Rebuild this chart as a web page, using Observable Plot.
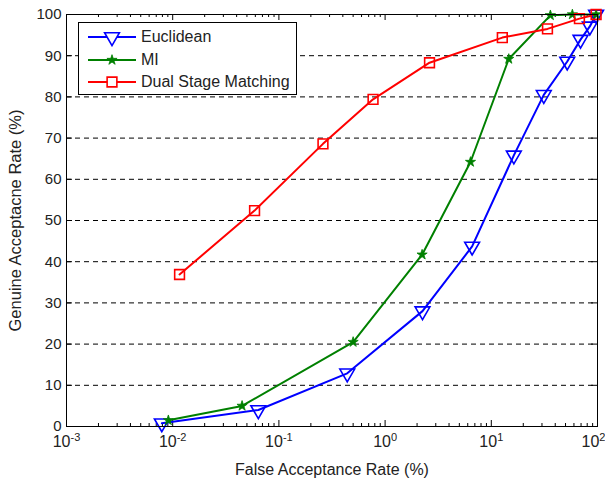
<!DOCTYPE html>
<html>
<head>
<meta charset="utf-8">
<script src="https://cdn.jsdelivr.net/npm/d3@7"></script>
<script src="https://cdn.jsdelivr.net/npm/@observablehq/plot@0.6"></script>
<style>
  body { margin: 0; background: #fff; }
  #wrap { position: relative; width: 605px; height: 478px; font-family: "Liberation Sans", Arial, sans-serif; }
  #legend { position: absolute; left: 78px; top: 22px; width: 217px; height: 71px; border: 1px solid #000; background: #fff; }
  .row { position: absolute; left: 0; height: 20px; display: flex; align-items: center; font-size: 16px; color: #222; }
  .row svg { margin-left: 9px; margin-right: 5px; }
</style>
</head>
<body>
<div id="wrap"><div id="legend"></div></div>
<script>
// ---- data ----
const seriesNames = ["Euclidean", "MI", "Dual Stage Matching"];
const seriesColors = ["#0000ff", "#008000", "#ff0000"];
const seriesSymbols = ["triangle", "star", "square"];

const farEuclidean = [0.0079, 0.064, 0.44, 2.25, 6.6, 16.3, 31.2, 51.9, 69.2, 84.7, 97];
const garEuclidean = [0.8, 4.0, 12.9, 28.0, 43.7, 65.8, 80.5, 88.6, 93.9, 97.1, 100];

const farMI = [0.0091, 0.045, 0.50, 2.23, 6.37, 14.6, 36, 58, 97];
const garMI = [1.5, 5.0, 20.5, 41.7, 64.2, 89.2, 99.8, 100, 100];

const farDual = [0.0116, 0.059, 0.26, 0.77, 2.62, 12.7, 33.8, 67.6, 97];
const garDual = [36.9, 52.4, 68.6, 79.4, 88.3, 94.4, 96.5, 99.0, 100];

const xMajorTicks = [1e-3, 1e-2, 1e-1, 1e0, 1e1, 1e2];
const xMinorMultipliers = [2, 3, 4, 5, 6, 7, 8, 9];
const yTicks = [0, 10, 20, 30, 40, 50, 60, 70, 80, 90, 100];
const yGrid = [10, 20, 30, 40, 50, 60, 70, 80, 90];

// ---- build table ----
const rows = [];
[[farEuclidean, garEuclidean], [farMI, garMI], [farDual, garDual]].forEach(([xs, ys], i) => {
  xs.forEach((x, j) => rows.push({series: seriesNames[i], far: x, gar: ys[j]}));
});
const xMinor = [];
xMajorTicks.slice(0, -1).forEach(d => xMinorMultipliers.forEach(m => xMinor.push(d * m)));

const W = 605, H = 478, mL = 66, mR = 8, mT = 14, mB = 52;
const fw = W - mL - mR, fh = H - mT - mB;

const colorScale = {domain: seriesNames, range: seriesColors};

const chart = Plot.plot({
  width: W, height: H,
  marginLeft: mL, marginRight: mR, marginTop: mT, marginBottom: mB,
  style: {fontFamily: '"Liberation Sans", Arial, sans-serif', fontSize: "15px", color: "#222", background: "#fff", overflow: "visible"},
  x: {type: "log", domain: [1e-3, 1e2]},
  y: {domain: [0, 100]},
  color: colorScale,
  marks: [
    Plot.ruleY(yGrid, {stroke: "#000", strokeDasharray: "5,4", strokeWidth: 1}),
    // inward ticks: bottom & top
    Plot.tickX(xMajorTicks, {x: d => d, stroke: "#000", insetTop: fh - 6}),
    Plot.tickX(xMajorTicks, {x: d => d, stroke: "#000", insetBottom: fh - 6}),
    Plot.tickX(xMinor, {x: d => d, stroke: "#000", insetTop: fh - 3}),
    Plot.tickX(xMinor, {x: d => d, stroke: "#000", insetBottom: fh - 3}),
    // inward ticks: left & right
    Plot.tickY(yTicks, {y: d => d, stroke: "#000", insetRight: fw - 6}),
    Plot.tickY(yTicks, {y: d => d, stroke: "#000", insetLeft: fw - 6}),
    Plot.line(rows, {x: "far", y: "gar", stroke: "series", strokeWidth: 2}),
    Plot.dot(rows.filter(d => d.series === seriesNames[0]), {x: "far", y: "gar", stroke: "series", symbol: "triangle", rotate: 180, r: 5.5, strokeWidth: 1.6, fill: "none"}),
    Plot.dot(rows.filter(d => d.series === seriesNames[1]), {x: "far", y: "gar", fill: "series", symbol: "star", r: 3.2, stroke: "series", strokeWidth: 0.8}),
    Plot.dot(rows.filter(d => d.series === seriesNames[2]), {x: "far", y: "gar", stroke: "series", symbol: "square", r: 5.5, strokeWidth: 1.6, fill: "none"}),
    Plot.frame({stroke: "#000", strokeWidth: 1}),
    Plot.axisX({ticks: xMajorTicks, tickFormat: d => String(Math.round(Math.log10(d))), tickSize: 0, tickPadding: 9, fontSize: 16,
      label: null}),
    Plot.axisX({ticks: [], label: "False Acceptance Rate (%)", labelAnchor: "center", labelArrow: "none", labelOffset: 48, fontSize: 16, tickSize: 0}),
    Plot.axisY({ticks: yTicks, tickSize: 0, tickPadding: 5, fontSize: 15, label: null}),
    Plot.axisY({ticks: [], label: "Genuine Acceptacne Rate (%)", labelAnchor: "center", labelArrow: "none", labelOffset: 57, fontSize: 16.5, tickSize: 0})
  ]
});

// superscript exponents on x tick labels
const xt = d3.select(chart).selectAll('g[aria-label="x-axis tick label"] text');
const n = xt.size();
xt.each(function(_, i) {
  const exp = this.textContent;
  const t = d3.select(this);
  t.text("10");
  t.append("tspan").attr("dy", "-0.55em").attr("font-size", "11px").text(exp);
  if (i === n - 1) t.attr("dx", -4);
});

const wrap = document.getElementById("wrap");
wrap.insertBefore(chart, wrap.firstChild);

// legend
const legend = d3.select("#legend");
seriesNames.forEach((name, i) => {
  const row = legend.append("div").attr("class", "row").style("top", (4 + i * 22.5) + "px");
  const svg = row.append("svg").attr("width", 48).attr("height", 20);
  svg.append("line").attr("x1", 0).attr("x2", 48).attr("y1", 10).attr("y2", 10)
    .attr("stroke", seriesColors[i]).attr("stroke-width", 2);
  const sym = d3.symbol().type(seriesSymbols[i] === "triangle" ? d3.symbolTriangle : seriesSymbols[i] === "star" ? d3.symbolStar : d3.symbolSquare)
    .size(seriesSymbols[i] === "star" ? Math.PI * 3.2 * 3.2 : Math.PI * 5.5 * 5.5);
  svg.append("path").attr("d", sym()).attr("transform", `translate(24,10) rotate(${seriesSymbols[i] === "triangle" ? 180 : 0})`)
    .attr("fill", seriesSymbols[i] === "star" ? seriesColors[i] : "#fff")
    .attr("stroke", seriesColors[i]).attr("stroke-width", seriesSymbols[i] === "star" ? 0.8 : 1.6);
  row.append("span").text(name);
});
</script>
</body>
</html>
